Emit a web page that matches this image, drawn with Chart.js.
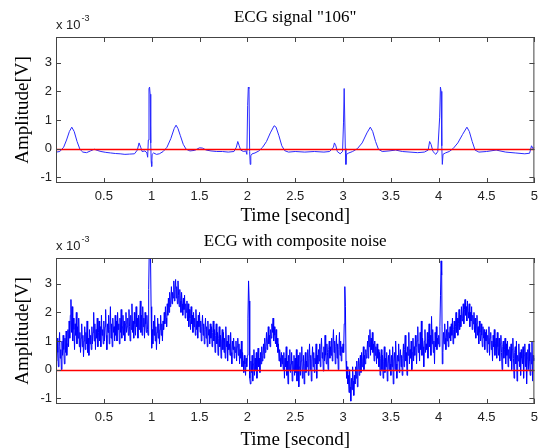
<!DOCTYPE html>
<html lang="en">
<head>
<meta charset="UTF-8">
<title>ECG signal 106</title>
<script src="https://cdn.jsdelivr.net/npm/chart.js"></script>
<style>
  body { margin: 0; background: #fff; }
  canvas { display: block; }
</style>
</head>
<body>
<canvas id="cleanChart" width="544" height="224"></canvas>
<canvas id="noisyChart" width="544" height="224"></canvas>
<script>
// amplitudes are in units of 1e-3 V
const xTickValues = [0.5, 1, 1.5, 2, 2.5, 3, 3.5, 4, 4.5, 5];
const yTickValues = [-1, 0, 1, 2, 3];

// record "106"
const cleanTime = [
  0.003, 0.04, 0.08, 0.11, 0.14, 0.165, 0.19, 0.22, 0.25, 0.28, 0.32, 0.36, 0.4, 0.43, 0.47,
  0.52, 0.57, 0.62, 0.67, 0.72, 0.77, 0.82, 0.85, 0.868, 0.885, 0.9, 0.93, 0.95, 0.958, 0.965,
  0.972, 0.978, 0.984, 0.99, 0.995, 1.0, 1.005, 1.02, 1.05, 1.08, 1.12, 1.16, 1.2, 1.235, 1.255,
  1.275, 1.3, 1.33, 1.36, 1.4, 1.45, 1.5, 1.53, 1.57, 1.62, 1.68, 1.74, 1.8, 1.86, 1.885,
  1.9, 1.915, 1.93, 1.96, 1.985, 1.995, 2.003, 2.01, 2.017, 2.024, 2.03, 2.036, 2.05, 2.08, 2.12,
  2.16, 2.2, 2.24, 2.28, 2.3, 2.33, 2.36, 2.39, 2.43, 2.5, 2.6, 2.7, 2.8, 2.86, 2.9,
  2.91, 2.925, 2.94, 2.97, 2.995, 3.005, 3.012, 3.018, 3.024, 3.03, 3.036, 3.06, 3.1, 3.15, 3.2,
  3.25, 3.285, 3.31, 3.34, 3.37, 3.41, 3.48, 3.55, 3.62, 3.7, 3.78, 3.85, 3.89, 3.905, 3.92,
  3.94, 3.97, 3.99, 4.01, 4.018, 4.025, 4.032, 4.038, 4.045, 4.07, 4.11, 4.15, 4.2, 4.25, 4.295,
  4.32, 4.35, 4.38, 4.42, 4.5, 4.6, 4.7, 4.8, 4.9, 4.95, 4.97, 4.985, 5.0
];
const cleanAmp = [
  -0.12, -0.1, 0.05, 0.3, 0.6, 0.75, 0.6, 0.25, -0.02, -0.12, -0.14, -0.08, -0.02, -0.06, -0.1,
  -0.13, -0.15, -0.17, -0.18, -0.2, -0.19, -0.18, -0.05, 0.2, 0.05, -0.1, -0.08, -0.15, -0.3, 0.3,
  2.1, 2.15, 1.9, 0.2, -0.45, -0.62, -0.2, -0.15, -0.2, -0.18, -0.1, 0.05, 0.35, 0.7, 0.82,
  0.7, 0.45, 0.15, -0.02, -0.08, -0.06, 0.03, 0.02, -0.05, -0.08, -0.1, -0.1, -0.12, -0.1, 0.05,
  0.25, 0.1, -0.05, -0.1, -0.08, -0.2, 1.5, 2.15, 2.1, -0.1, -0.55, -0.25, -0.18, -0.15, -0.08,
  0.05, 0.25, 0.55, 0.8, 0.75, 0.45, 0.1, -0.07, -0.12, -0.1, -0.12, -0.1, -0.12, -0.1, 0.05,
  0.2, 0.1, -0.1, -0.18, -0.1, 0.9, 2.1, 2.1, 0.0, -0.55, -0.2, -0.15, -0.1, 0.0, 0.2,
  0.55, 0.75, 0.6, 0.25, -0.02, -0.1, -0.08, -0.05, -0.1, -0.12, -0.14, -0.12, -0.05, 0.25, 0.15,
  -0.1, -0.2, -0.1, 1.1, 2.15, 2.0, 0.1, -0.55, -0.2, -0.15, -0.1, 0.0, 0.2, 0.5, 0.75,
  0.6, 0.25, -0.05, -0.12, -0.1, -0.05, -0.12, -0.15, -0.18, -0.16, 0.1, 0.0, 0.05
];

// same record with composite noise, one reading every noisyStep seconds from t = 0
// (each row is 0.125 s)
const noisyStep = 0.00625;
const noisyAmp = [
  0.9, 0.3, 1.1, 0.6, 0.1, 0.8, 1.3, 0.4, 0.7, 0.0, 1.0, 0.5, 1.2, 0.7, 0.2, 1.1, 0.6, 1.35, 0.5, 0.9,
  1.4, 0.8, 1.7, 1.1, 1.9, 2.45, 1.3, 2.2, 1.0, 1.8, 1.4, 0.7, 1.6, 1.2, 2.0, 0.9, 1.5, 1.1, 1.8, 0.8,
  1.3, 0.6, 1.1, 1.6, 0.8, 1.2, 0.45, 1.0, 1.5, 0.7, 1.3, 0.9, 1.7, 0.6, 1.1, 0.5, 1.4, 0.9, 1.2, 0.7,
  1.5, 0.9, 1.3, 2.0, 1.0, 1.6, 0.7, 1.4, 1.1, 1.8, 0.8, 1.3, 1.7, 1.0, 1.5, 0.8, 1.9, 1.2, 1.4, 0.9,
  1.7, 1.0, 1.5, 2.1, 1.2, 0.7, 1.6, 1.3, 1.9, 0.9, 1.4, 2.2, 1.1, 1.6, 0.8, 1.8, 1.3, 1.5, 1.0, 1.9,
  1.2, 1.7, 1.0, 2.0, 1.4, 1.6, 0.9, 1.8, 1.3, 2.1, 1.1, 1.5, 1.9, 1.2, 1.7, 1.0, 1.6, 2.0, 1.3, 1.5,
  1.8, 1.2, 2.1, 1.5, 1.0, 1.9, 1.4, 2.3, 1.3, 1.7, 1.1, 2.0, 1.6, 1.2, 2.2, 1.5, 1.8, 1.1, 1.9, 1.4,
  1.7, 2.4, 1.3, 1.9, 1.2, 2.2, 1.5, 1.8, 1.1, 2.0, 1.6, 1.3, 1.9, 1.4, 1.2, 2.8, 4.2, 3.9, 4.1, 2.2,
  0.75, 1.4, 0.9, 1.7, 1.2, 1.9, 1.0, 1.5, 0.7, 1.3, 1.8, 1.1, 1.6, 0.9, 1.4, 1.9, 1.2, 1.6, 1.0, 1.7,
  1.4, 2.0, 1.6, 2.2, 1.8, 1.5, 2.3, 1.9, 2.5, 2.0, 2.7, 2.2, 2.4, 2.9, 2.3, 2.7, 2.5, 3.1, 2.4, 2.8,
  3.15, 2.5, 2.9, 2.3, 3.1, 2.6, 2.2, 2.8, 2.4, 2.0, 2.7, 2.3, 1.9, 2.5, 2.1, 2.6, 1.8, 2.3, 2.0, 2.4,
  1.7, 2.3, 1.5, 2.1, 1.8, 1.4, 2.2, 1.6, 1.9, 1.3, 2.0, 1.5, 1.8, 1.2, 2.1, 1.4, 1.7, 1.1, 1.9, 1.5,
  2.0, 1.3, 1.7, 1.0, 1.5, 1.9, 1.2, 1.6, 0.9, 1.4, 1.8, 1.1, 1.5, 0.8, 1.7, 1.2, 1.4, 0.9, 1.6, 1.1,
  1.5, 0.8, 1.3, 1.7, 1.0, 1.4, 0.6, 1.2, 1.6, 0.9, 1.3, 0.5, 1.1, 1.5, 0.8, 1.2, 0.4, 1.0, 1.4, 0.7,
  1.3, 0.6, 1.1, 0.4, 1.5, 0.8, 1.0, 0.3, 1.2, 0.7, 0.9, 0.5, 1.3, 0.6, 0.2, 1.0, 0.7, 1.1, 0.4, 0.8,
  0.6, 1.0, 0.3, 0.8, 1.1, 0.5, 0.9, 0.2, 0.7, 0.4, 1.0, 0.1, 0.6, 0.3, -0.1, 0.5, 0.2, -0.2, 0.4, 0.1,
  0.5, 1.8, 3.1, 2.4, -0.3, -0.5, 0.3, -0.1, 0.5, -0.4, 0.2, 0.7, -0.2, 0.4, 0.0, 0.6, -0.3, 0.3, 0.75, 0.1,
  0.4, -0.1, 0.6, 0.2, 0.8, 0.3, 0.5, 0.9, 0.4, 1.1, 0.6, 0.8, 1.3, 0.7, 1.0, 1.5, 0.9, 1.2, 0.8, 1.4,
  1.1, 1.6, 1.3, 1.8, 1.0, 1.5, 1.2, 0.9, 1.4, 0.8, 1.1, 0.6, 0.9, 0.3, 0.7, 0.4, 0.1, 0.6, 0.2, 0.5,
  0.0, 0.6, -0.3, 0.4, 0.1, 0.8, -0.2, 0.3, -0.5, 0.5, 0.0, 0.7, -0.1, 0.2, 0.6, -0.4, 0.3, 0.0, 0.5, -0.2,
  0.4, -0.1, 0.7, -0.4, 0.2, 0.5, -0.6, 0.1, 0.6, -0.2, 0.3, 0.8, -0.3, 0.0, 0.5, -0.5, 0.2, 0.6, -0.1, 0.3,
  0.1, 0.7, -0.2, 0.4, 0.9, 0.0, 0.5, -0.4, 0.3, 0.8, 0.1, 0.6, -0.1, 0.4, 0.2, 0.9, -0.3, 0.5, 0.2, 0.7,
  0.3, 0.9, 0.1, 0.7, 1.1, 0.4, 0.6, -0.05, 0.8, 0.3, 1.2, 0.5, 0.2, 0.9, 0.6, 0.0, 0.7, 1.0, 0.4, 0.8,
  0.5, 1.1, 0.3, 0.9, 1.4, 0.6, 1.0, 0.2, 0.8, 1.2, 0.4, 0.9, 0.0, 0.7, 1.3, 0.5, 1.0, 0.3, 0.8, 0.6,
  0.9, 0.6, 1.6, 2.9, 2.2, 0.3, -0.3, 0.1, -0.5, -0.2, -0.8, 0.0, -0.6, -1.1, -0.3, -0.7, 0.1, -0.4, -0.9, -0.2,
  -0.5, 0.1, -0.3, 0.3, -0.6, 0.0, 0.4, -0.2, 0.2, 0.5, -0.1, 0.6, 0.1, 0.3, 0.8, 0.0, 0.5, 0.2, 0.7, 0.4,
  0.6, 1.0, 0.4, 1.2, 0.8, 1.4, 0.5, 1.1, 0.7, 1.3, 0.6, 0.9, 0.3, 1.0, 0.5, 0.8, 0.2, 0.9, 0.4, 0.7,
  0.1, 0.6, -0.2, 0.4, 0.7, 0.0, 0.5, -0.3, 0.3, 0.8, -0.1, 0.4, 0.1, 0.6, -0.4, 0.2, 0.5, 0.0, 0.7, 0.2,
  -0.2, 0.5, 0.1, 0.8, -0.5, 0.3, 0.6, 0.0, 1.0, 0.2, -0.3, 0.5, 0.3, 0.9, -0.1, 0.4, 0.7, 0.1, 0.5, -0.2,
  0.4, 0.9, 0.1, 0.7, 1.2, 0.3, 0.6, -0.2, 0.8, 0.5, 1.3, 0.2, 0.7, 0.4, 1.0, 0.0, 0.6, 1.1, 0.3, 0.8,
  0.5, 1.2, 0.8, 0.2, 1.0, 1.5, 0.6, 0.9, 0.3, 1.3, 0.7, 1.7, 0.5, 1.1, 0.8, 0.1, 1.0, 1.4, 0.6, 0.9,
  0.7, 1.3, 0.4, 1.1, 1.6, 0.8, 1.2, 0.5, 1.86, 0.9, 1.4, 0.6, 1.0, 0.2, 1.3, 0.8, 1.5, 0.7, 1.1, 0.9,
  1.2, 0.8, 1.5, 2.6, 3.8, 3.3, 0.2, 0.6, 1.3, 0.9, 1.6, 1.1, 0.7, 1.4, 1.0, 1.7, 0.8, 1.3, 1.1, 1.5,
  1.0, 1.6, 1.2, 1.8, 0.9, 1.4, 1.7, 1.1, 1.5, 2.0, 1.3, 1.8, 1.2, 1.6, 2.1, 1.4, 1.9, 1.5, 2.2, 1.7,
  1.8, 2.3, 1.6, 2.1, 2.45, 1.9, 2.2, 1.7, 2.4, 2.0, 1.8, 2.3, 1.5, 2.0, 1.7, 2.2, 1.4, 1.9, 1.6, 2.0,
  1.3, 1.8, 1.1, 1.6, 1.9, 1.2, 1.5, 0.9, 1.7, 1.3, 1.0, 1.6, 1.2, 0.8, 1.5, 1.1, 1.4, 0.7, 1.3, 1.0,
  1.4, 0.6, 1.2, 0.9, 1.5, 0.5, 1.1, 1.3, 0.7, 1.0, 0.3, 1.2, 0.8, 1.4, 0.5, 0.9, 1.1, 0.4, 1.3, 0.8,
  0.5, 1.1, 0.3, 0.9, 1.2, 0.6, 0.0, 0.8, 1.0, 0.4, 0.7, 1.1, 0.2, 0.9, 0.5, 1.0, 0.1, 0.7, 0.4, 0.8,
  0.3, 0.9, 0.0, 0.7, 1.1, 0.4, -0.3, 0.6, 0.8, 0.2, 1.0, -0.4, 0.5, 0.3, 0.9, 0.1, 0.6, -0.2, 0.7, 0.4,
  0.2, 0.8, -0.3, 0.5, 0.9, 0.1, 0.6, -0.5, 0.4, 0.7, 0.0, 0.9, 0.3, -0.2, 0.6, 0.2, 1.0, -0.4, 0.5, 0.3,
  0.4
];

Chart.defaults.font.family = '"Liberation Sans", Arial, sans-serif';
Chart.defaults.color = '#222';

// matlab look: box, ticks pointing inwards, red zero line, title and the x 10^-3 note
const matlabFrame = {
  id: 'matlabFrame',
  afterDatasetsDraw(chart, args, opts) {
    const { ctx, chartArea: a, scales: { x, y } } = chart;
    ctx.save();

    const y0 = Math.round(y.getPixelForValue(0)) + 0.5;
    ctx.strokeStyle = '#ff0000';
    ctx.lineWidth = 1.5;
    ctx.beginPath();
    ctx.moveTo(a.left, y0);
    ctx.lineTo(a.right, y0);
    ctx.stroke();

    ctx.strokeStyle = '#444';
    ctx.lineWidth = 1;
    ctx.strokeRect(a.left + 0.5, a.top + 0.5, a.width - 1, a.height - 1);
    ctx.beginPath();
    x.ticks.forEach(t => {
      const px = Math.round(x.getPixelForValue(t.value)) + 0.5;
      ctx.moveTo(px, a.bottom); ctx.lineTo(px, a.bottom - 5);
      ctx.moveTo(px, a.top); ctx.lineTo(px, a.top + 5);
    });
    y.ticks.forEach(t => {
      const py = Math.round(y.getPixelForValue(t.value)) + 0.5;
      ctx.moveTo(a.left, py); ctx.lineTo(a.left + 5, py);
      ctx.moveTo(a.right, py); ctx.lineTo(a.right - 5, py);
    });
    ctx.stroke();

    ctx.fillStyle = '#000';
    ctx.font = '17px "Liberation Serif"';
    ctx.textAlign = 'center';
    ctx.textBaseline = 'middle';
    ctx.fillText(opts.text, (a.left + a.right) / 2, opts.titleY);

    ctx.fillStyle = '#222';
    ctx.textAlign = 'left';
    ctx.textBaseline = 'alphabetic';
    ctx.font = '13px "Liberation Sans"';
    ctx.fillText('x 10', a.left, a.top - 8);
    const w = ctx.measureText('x 10').width;
    ctx.font = '9px "Liberation Sans"';
    ctx.fillText('-3', a.left + w + 1, a.top - 16);
    ctx.restore();
  }
};

function ecgOptions(title, titleY, areaTop, xAxisHeight) {
  return {
    responsive: false,
    animation: false,
    layout: { padding: { top: areaTop, right: 4, left: 0, bottom: 0 } },
    plugins: {
      legend: { display: false },
      tooltip: { enabled: false },
      matlabFrame: { text: title, titleY: titleY }
    },
    scales: {
      x: {
        type: 'linear',
        min: 0,
        max: 5,
        grid: { display: false, drawTicks: false },
        border: { display: false },
        afterBuildTicks: scale => { scale.ticks = xTickValues.map(v => ({ value: v })); },
        afterFit: scale => { scale.height = xAxisHeight; },
        ticks: { padding: 6, font: { size: 13 }, maxRotation: 0, autoSkip: false, callback: v => String(v) },
        title: {
          display: true,
          text: 'Time [second]',
          color: '#000',
          font: { family: '"Liberation Serif"', size: 19, lineHeight: 0.8 },
          padding: 0
        }
      },
      y: {
        min: -1.2,
        max: 3.9,
        grid: { display: false, drawTicks: false },
        border: { display: false },
        afterBuildTicks: scale => { scale.ticks = yTickValues.map(v => ({ value: v })); },
        afterFit: scale => { scale.width = 56; },
        ticks: { padding: 4, font: { size: 13 }, callback: v => String(v) },
        title: {
          display: true,
          text: 'Amplitude[V]',
          color: '#000',
          font: { family: '"Liberation Serif"', size: 19 },
          padding: { top: 12, bottom: 0 }
        }
      }
    }
  };
}

new Chart(document.getElementById('cleanChart'), {
  type: 'line',
  data: {
    datasets: [{
      data: cleanTime.map((t, i) => ({ x: t, y: cleanAmp[i] })),
      borderColor: '#2a2aff',
      borderWidth: 1,
      pointRadius: 0,
      tension: 0
    }]
  },
  options: ecgOptions('ECG signal "106"', 18, 37, 41),
  plugins: [matlabFrame]
});

new Chart(document.getElementById('noisyChart'), {
  type: 'line',
  data: {
    datasets: [{
      data: noisyAmp.map((v, i) => ({ x: i * noisyStep, y: v })),
      borderColor: '#0000ff',
      borderWidth: 1,
      pointRadius: 0,
      tension: 0
    }]
  },
  options: ecgOptions('ECG with composite noise', 18, 34, 44),
  plugins: [matlabFrame]
});
</script>
</body>
</html>
